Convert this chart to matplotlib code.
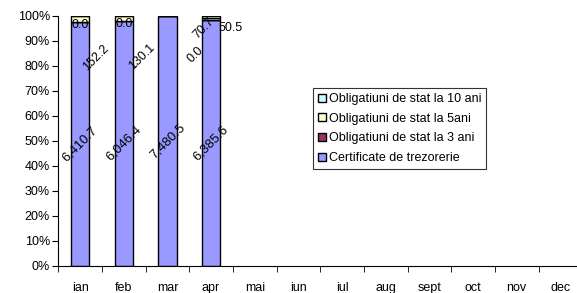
import matplotlib
matplotlib.use("Agg")
import matplotlib.pyplot as plt
import numpy as np

plt.rcParams['font.family'] = ['Liberation Sans', 'DejaVu Sans']

months = ['ian', 'feb', 'mar', 'apr', 'mai', 'iun', 'iul', 'aug', 'sept', 'oct', 'nov', 'dec']
series_names = ['Certificate de trezorerie', 'Obligatiuni de stat la 3 ani',
                'Obligatiuni de stat la 5ani', 'Obligatiuni de stat la 10 ani']
certificate = [6410.7, 6046.4, 7480.5, 6385.6]
oblig_3ani = [0.0, 0.0, 0.0, 0.0]
oblig_5ani = [152.2, 130.1, 0.0, 70.7]
oblig_10ani = [0.0, 0.0, 0.0, 50.5]

colors = ['#9999FF', '#993366', '#FFFFCC', '#CCFFFF']

# which small labels were shown, and where Excel put them (offset in pixels, rotation)
label_style = {
    (1, 0): (0, -3, 0), (1, 1): (0, -3, 0),
    (2, 0): (16, -39, 45), (2, 1): (18, -38, 45),
    (1, 3): (-16, -34, 45), (2, 3): (-7, -9, 45), (3, 3): (19, -11, 0),
}

data = np.array([certificate, oblig_3ani, oblig_5ani, oblig_10ani])
totals = data.sum(axis=0)
pct = data / totals * 100

fig = plt.figure(figsize=(5.77, 2.93), dpi=100)
ax = fig.add_axes([0.101, 0.093, 0.908, 0.853])

x = np.arange(len(certificate)) + 0.5
bottom = np.zeros(len(certificate))
for k in range(4):
    ax.bar(x, pct[k], 0.42, bottom=bottom, color=colors[k], edgecolor='black',
           linewidth=1, label=series_names[k])
    for i in range(len(certificate)):
        mid = bottom[i] + pct[k][i] / 2
        txt = '{:,.1f}'.format(data[k][i])
        if k == 0:
            ax.text(x[i], mid, txt, rotation=45, ha='center', va='center', fontsize=9.5)
        elif (k, i) in label_style:
            dx, dy, rot = label_style[(k, i)]
            ax.annotate(txt, (x[i], mid), xytext=(dx, dy), textcoords='offset pixels',
                        rotation=rot, ha='center', va='center', fontsize=9)
    bottom += pct[k]

ax.set_xlim(0, 12)
ax.set_ylim(0, 100)
ax.set_yticks(np.arange(0, 101, 10))
ax.set_yticklabels(['{}%'.format(v) for v in range(0, 101, 10)], fontsize=9)
ax.set_xticks(np.arange(12) + 0.5)
ax.set_xticklabels(months, fontsize=9)
ax.set_xticks(np.arange(13), minor=True)
ax.tick_params(axis='x', which='major', length=0, pad=11.5)
ax.tick_params(axis='x', which='minor', length=4, direction='out')
ax.tick_params(axis='y', length=4, direction='out', pad=2)
ax.spines['top'].set_visible(False)
ax.spines['right'].set_visible(False)

handles, labels = ax.get_legend_handles_labels()
leg = ax.legend(handles[::-1], labels[::-1], loc='upper left',
                bbox_to_anchor=(313 / 577, 1 - 88 / 293), bbox_transform=fig.transFigure,
                fontsize=9, frameon=True, fancybox=False, edgecolor='black',
                handlelength=0.6, handleheight=0.6, handletextpad=0.25,
                labelspacing=0.62, borderpad=0.4, borderaxespad=0)
leg.get_frame().set_linewidth(0.8)

fig.savefig('out.png', dpi=100)
